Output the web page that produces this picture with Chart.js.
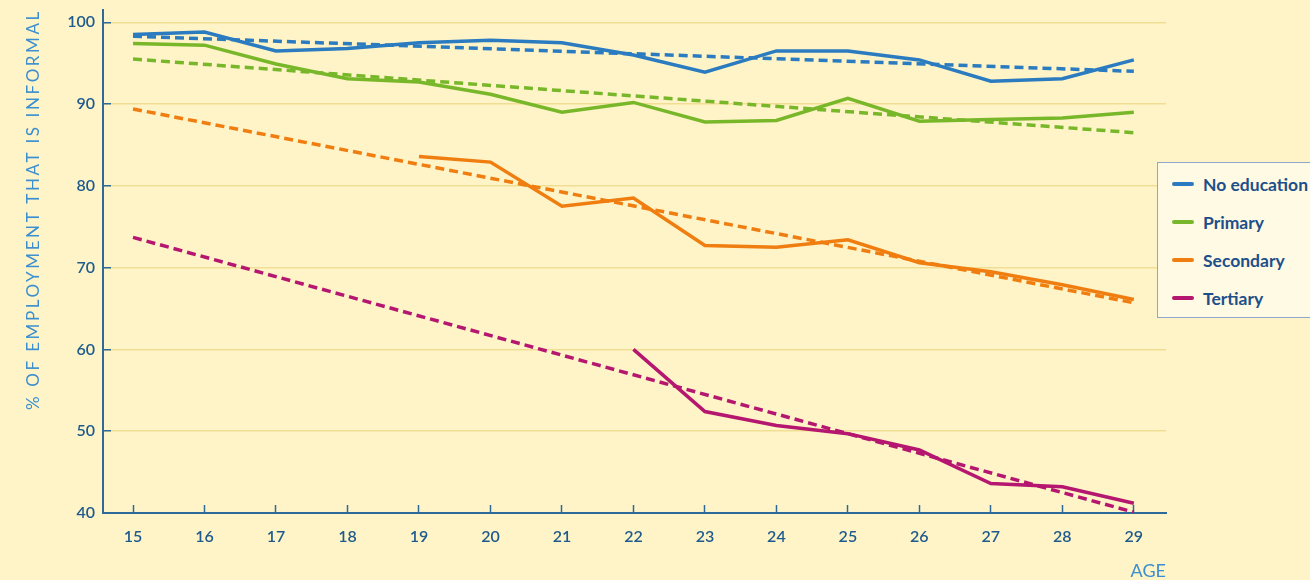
<!DOCTYPE html>
<html>
<head>
<meta charset="utf-8">
<script src="https://cdn.jsdelivr.net/npm/chart.js@4"></script>
<style>
  html, body { margin: 0; padding: 0; background: #fef4c7; overflow: hidden; }
  #wrap { position: relative; width: 1310px; height: 580px; overflow: hidden; }
  #ytitle { position: absolute; left: -167px; top: 200px; width: 400px; height: 20px; line-height: 20px;
    text-align: center; transform: rotate(-90deg); transform-origin: 50% 50%;
    font-family: Lato, sans-serif; font-size: 17px; letter-spacing: 2.6px; color: #3b8fd0; white-space: nowrap; }
  #legend { position: absolute; left: 1157px; top: 162px; width: 180px; height: 156px;
    border: 1px solid #8ea6c8; background: #fffae3; box-sizing: border-box; }
  .item { position: absolute; left: 14px; height: 20px; display: flex; align-items: center; }
  .swatch { width: 22px; height: 4px; border-radius: 2px; margin-right: 9px; }
  .lbl { font-family: Lato, sans-serif; font-weight: 700; font-size: 17.5px; color: #1d4f8a; white-space: nowrap; }
</style>
</head>
<body>
<div id="wrap">
  <canvas id="c" width="1310" height="580"></canvas>
  <div id="ytitle">% OF EMPLOYMENT THAT IS INFORMAL</div>
  <div id="legend"></div>
</div>
<script>
const ages = [15, 16, 17, 18, 19, 20, 21, 22, 23, 24, 25, 26, 27, 28, 29];
const seriesNames = ["No education", "Primary", "Secondary", "Tertiary"];
const seriesColors = ["#2b7bc0", "#78b72a", "#ef7d10", "#b5166f"];

const noEducation = [98.5, 98.8, 96.5, 96.8, 97.5, 97.8, 97.5, 96.0, 93.9, 96.5, 96.5, 95.4, 92.8, 93.1, 95.4];
const primary     = [97.4, 97.2, 94.9, 93.1, 92.7, 91.2, 89.0, 90.2, 87.8, 88.0, 90.7, 87.9, 88.1, 88.3, 89.0];
const secondary   = [null, null, null, null, 83.6, 82.9, 77.5, 78.5, 72.7, 72.5, 73.4, 70.6, 69.5, 67.9, 66.1];
const tertiary    = [null, null, null, null, null, null, null, 60.0, 52.4, 50.7, 49.7, 47.7, 43.6, 43.2, 41.2];

// fitted trend lines: value at age 15 and at age 29
const trendAges = [15, 29];
const noEducationTrend = [98.3, 94.0];
const primaryTrend     = [95.5, 86.5];
const secondaryTrend   = [89.4, 65.7];
const tertiaryTrend    = [73.7, 40.1];

const yTicks = [40, 50, 60, 70, 80, 90, 100];

const actual = [noEducation, primary, secondary, tertiary];
const trends = [noEducationTrend, primaryTrend, secondaryTrend, tertiaryTrend];

const toPts = (xs, ys) => xs.map((x, i) => ({ x: x, y: ys[i] }));

const datasets = [];
trends.forEach((t, i) => {
  datasets.push({
    label: seriesNames[i] + " trend",
    data: toPts(trendAges, t),
    borderColor: seriesColors[i],
    borderWidth: 3.5,
    borderDash: [9, 5],
    pointRadius: 0,
    fill: false,
    order: 2
  });
});
actual.forEach((s, i) => {
  datasets.push({
    label: seriesNames[i],
    data: toPts(ages, s),
    borderColor: seriesColors[i],
    borderWidth: 3.5,
    pointRadius: 0,
    fill: false,
    spanGaps: false,
    borderJoinStyle: 'miter',
    order: 1
  });
});

const axisColor = "#2d6a99";
const tickColor = "#1f5a8e";

new Chart(document.getElementById('c'), {
  type: 'line',
  data: { datasets: datasets },
  options: {
    responsive: false,
    animation: false,
    layout: { padding: { top: 10, right: 144, left: 0, bottom: 0 } },
    plugins: { legend: { display: false }, tooltip: { enabled: false } },
    scales: {
      x: {
        type: 'linear',
        min: 14.58,
        max: 29.45,
        afterBuildTicks: (scale) => { scale.ticks = ages.map(v => ({ value: v })); },
        afterFit: (scale) => { scale.height = 67; scale.paddingLeft = 0; scale.paddingRight = 0; },
        grid: { drawOnChartArea: false, drawTicks: true, tickLength: -8, tickColor: axisColor, tickWidth: 1.5 },
        border: { display: true, color: axisColor, width: 2 },
        ticks: { padding: 22, color: tickColor, font: { family: 'Lato', size: 16, weight: '600' }, maxRotation: 0, autoSkip: false },
        title: { display: true, text: 'AGE', align: 'end', color: '#3b8fd0', font: { family: 'Lato', size: 18, lineHeight: 1 }, padding: { top: 0, bottom: 0 } }
      },
      y: {
        min: 40,
        max: 101.5,
        afterBuildTicks: (scale) => { scale.ticks = yTicks.map(v => ({ value: v })); },
        afterFit: (scale) => { scale.width = 103; scale.paddingTop = 0; scale.paddingBottom = 0; },
        grid: { color: "#f1dd93", lineWidth: 1.5, drawTicks: true, tickLength: -8, tickColor: axisColor, tickWidth: 1.5 },
        border: { display: true, color: axisColor, width: 2 },
        ticks: { padding: 16, color: tickColor, font: { family: 'Lato', size: 16, weight: '600' } }
      }
    }
  }
});

// HTML legend built from series names/colors
const legend = document.getElementById('legend');
const rowCenters = [21, 59, 97, 135];
seriesNames.forEach((n, i) => {
  const item = document.createElement('div');
  item.className = 'item';
  item.style.top = (rowCenters[i] - 10) + 'px';
  const sw = document.createElement('div');
  sw.className = 'swatch';
  sw.style.background = seriesColors[i];
  const lb = document.createElement('span');
  lb.className = 'lbl';
  lb.textContent = n;
  item.appendChild(sw);
  item.appendChild(lb);
  legend.appendChild(item);
});
</script>
</body>
</html>
